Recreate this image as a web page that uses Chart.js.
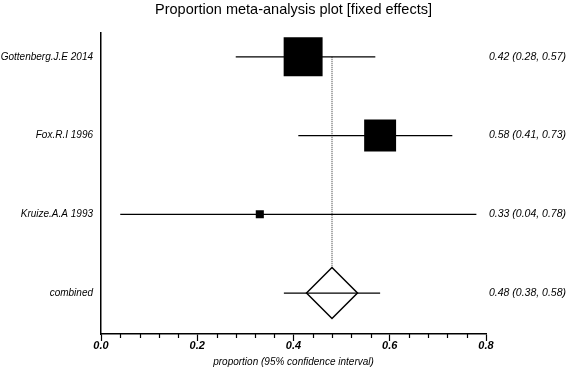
<!DOCTYPE html>
<html>
<head>
<meta charset="utf-8">
<script src="https://cdn.jsdelivr.net/npm/chart.js@4.4.1/dist/chart.umd.min.js"></script>
<style>
    html, body { margin: 0; padding: 0; background: #fff; }
    #wrap { width: 567px; height: 370px; }
</style>
</head>
<body>
<div id="wrap"><canvas id="forest"></canvas></div>
<script>
const studies = ['Gottenberg.J.E 2014', 'Fox.R.I 1996', 'Kruize.A.A 1993', 'combined'];
const estimates = [0.42, 0.58, 0.33, 0.48];
const lower = [0.28, 0.41, 0.04, 0.38];
const upper = [0.57, 0.73, 0.78, 0.58];
const weights = [58.3, 39.2, 2.5]; // % weight, box area follows it
const xTicks = [0, 0.2, 0.4, 0.6, 0.8];
const minorStep = 0.04;

const resultText = estimates.map((e, i) =>
    `${e.toFixed(2)} (${lower[i].toFixed(2)}, ${upper[i].toFixed(2)})`);

const pooled = studies.length - 1;
const datasets = [];

// dotted line at the pooled estimate
datasets.push({
    data: [{ x: estimates[pooled], y: 0 }, { x: estimates[pooled], y: pooled }],
    showLine: true,
    borderColor: '#333',
    borderWidth: 1,
    borderDash: [1, 1],
    pointRadius: 0,
    order: 5
});

// diamond for the combined estimate
datasets.push({
    data: [{ x: estimates[pooled], y: pooled }],
    pointStyle: 'rectRot',
    pointRadius: 25.5,
    pointHoverRadius: 25.5,
    backgroundColor: '#fff',
    borderColor: '#000',
    borderWidth: 1.5,
    order: 2
});

// confidence interval lines
studies.forEach((s, i) => {
    datasets.push({
        data: [{ x: lower[i], y: i }, { x: upper[i], y: i }],
        showLine: true,
        borderColor: '#000',
        borderWidth: 1.3,
        pointRadius: 0,
        order: 1
    });
});

// weighted boxes
const boxRadius = ctx => 5.1 * Math.sqrt(weights[ctx.dataIndex]) / Math.SQRT2;
datasets.push({
    data: weights.map((w, i) => ({ x: estimates[i], y: i })),
    pointStyle: 'rect',
    pointRadius: boxRadius,
    pointHoverRadius: boxRadius,
    backgroundColor: '#000',
    borderColor: '#000',
    borderWidth: 0,
    order: 0
});

const font = 'Liberation Sans, Arial, sans-serif';

// minor x ticks and the result column on the right
const extras = {
    id: 'extras',
    afterDraw(chart) {
        const xs = chart.scales.x;
        const ys = chart.scales.y;
        const ctx = chart.ctx;
        const y0 = chart.chartArea.bottom;
        const n = Math.round(xs.max / minorStep);
        ctx.save();
        ctx.strokeStyle = '#000';
        ctx.lineWidth = 1.2;
        for (let k = 1; k < n; k++) {
            if (k % 5 === 0) continue;
            const px = Math.round(xs.getPixelForValue(k * minorStep)) + 0.5;
            ctx.beginPath();
            ctx.moveTo(px, y0);
            ctx.lineTo(px, y0 + 4);
            ctx.stroke();
        }
        ctx.fillStyle = '#000';
        ctx.font = 'italic 10.5px ' + font;
        ctx.textAlign = 'right';
        ctx.textBaseline = 'middle';
        resultText.forEach((t, i) => {
            ctx.fillText(t, chart.width - 1, ys.getPixelForValue(i));
        });
        ctx.restore();
    }
};

const rowTicks = scale => { scale.ticks = studies.map((_, i) => ({ value: i })); };

new Chart(document.getElementById('forest'), {
    type: 'scatter',
    data: { datasets: datasets },
    options: {
        responsive: true,
        maintainAspectRatio: false,
        animation: false,
        layout: { padding: { top: 0, right: 81, bottom: 0, left: 0 } },
        plugins: {
            legend: { display: false },
            tooltip: { enabled: false },
            title: {
                display: true,
                fullSize: false,
                text: 'Proportion meta-analysis plot [fixed effects]',
                color: '#000',
                font: { family: font, size: 14.5, weight: 'normal' },
                padding: { top: 1, bottom: 14 }
            }
        },
        scales: {
            x: {
                type: 'linear',
                min: 0,
                max: 0.8,
                afterBuildTicks: s => { s.ticks = xTicks.map(v => ({ value: v })); },
                afterFit: s => { s.height = 36; },
                ticks: {
                    callback: v => v.toFixed(1),
                    color: '#000',
                    padding: -2,
                    font: { family: font, size: 11, style: 'italic', weight: 'bold' }
                },
                grid: { drawOnChartArea: false, tickLength: 7, color: '#000', tickWidth: 1.2 },
                border: { color: '#000', width: 1.5 },
                title: {
                    display: true,
                    text: 'proportion (95% confidence interval)',
                    color: '#000',
                    padding: { top: 2, bottom: 2 },
                    font: { family: font, size: 10, style: 'italic' }
                }
            },
            y: {
                type: 'linear',
                position: 'left',
                reverse: true,
                min: -0.31,
                max: 3.52,
                afterBuildTicks: rowTicks,
                afterFit: s => { s.width = 101; },
                ticks: {
                    callback: (v, i) => studies[i],
                    color: '#000',
                    padding: 8,
                    font: { family: font, size: 10, style: 'italic' }
                },
                grid: { display: false, drawTicks: false },
                border: { color: '#000', width: 1.5 }
            }
        }
    },
    plugins: [extras]
});
</script>
</body>
</html>
